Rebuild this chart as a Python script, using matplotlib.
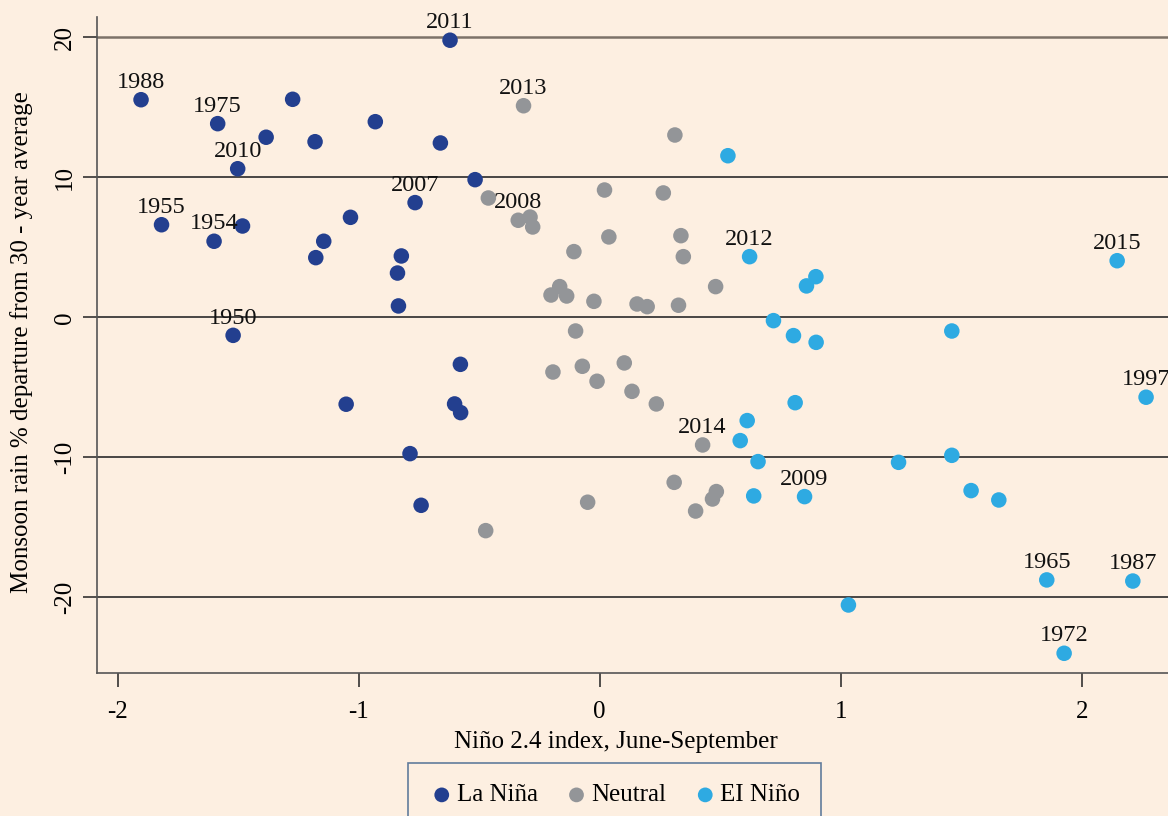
import matplotlib
matplotlib.use("Agg")
import matplotlib.pyplot as plt

# ---- data ----
la_nina_x = [-1.903, -1.585, -1.384, -1.274, -1.181, -0.931, -1.502, -1.818, -1.600, -1.482,
             -1.145, -1.178, -1.034, -0.823, -0.839, -0.835, -1.521, -0.621, -0.661, -0.517,
             -0.766, -1.052, -0.578, -0.602, -0.577, -0.787, -0.741]
la_nina_y = [15.54, 13.83, 12.86, 15.57, 12.54, 13.97, 10.61, 6.61, 5.43, 6.52,
             5.43, 4.26, 7.14, 4.38, 3.16, 0.81, -1.29, 19.79, 12.45, 9.83,
             8.19, -6.21, -3.36, -6.19, -6.81, -9.74, -13.43]
la_nina_labels = ['1988', '1975', '', '', '', '', '2010', '1955', '1954', '',
                  '', '', '', '', '', '', '1950', '2011', '', '',
                  '2007', '', '', '', '', '', '']

neutral_x = [-0.316, 0.312, -0.462, -0.338, -0.289, -0.278, 0.020, 0.264, 0.038, 0.337,
             0.347, -0.107, -0.166, -0.202, -0.137, -0.024, 0.155, 0.197, 0.327, 0.481,
             -0.100, -0.194, -0.072, -0.011, 0.102, 0.134, 0.235, 0.427, 0.309, 0.484,
             0.468, 0.398, -0.050, -0.473]
neutral_y = [15.11, 13.02, 8.52, 6.93, 7.16, 6.45, 9.09, 8.88, 5.74, 5.83,
             4.33, 4.69, 2.19, 1.59, 1.52, 1.14, 0.95, 0.76, 0.86, 2.19,
             -0.98, -3.91, -3.50, -4.57, -3.26, -5.29, -6.19, -9.12, -11.79, -12.45,
             -12.98, -13.84, -13.21, -15.24]
neutral_labels = ['2013', '', '', '2008', '', '', '', '', '', '',
                  '', '', '', '', '', '', '', '', '', '',
                  '', '', '', '', '', '', '', '2014', '', '',
                  '', '', '', '']

el_nino_x = [0.532, 0.622, 0.721, 0.804, 0.897, 0.858, 2.147, 0.898, 1.461, 0.811,
             0.612, 0.583, 0.657, 0.639, 2.267, 1.240, 1.461, 0.850, 1.541, 1.656,
             1.855, 2.212, 1.032, 1.927]
el_nino_y = [11.54, 4.33, -0.24, -1.31, 2.90, 2.24, 4.04, -1.79, -0.98, -6.10,
             -7.38, -8.81, -10.31, -12.76, -5.71, -10.36, -9.86, -12.81, -12.38, -13.05,
             -18.76, -18.84, -20.55, -24.00]
el_nino_labels = ['', '2012', '', '', '', '', '2015', '', '', '',
                  '', '', '', '', '1997', '', '', '2009', '', '',
                  '1965', '1987', '', '1972']

series_names = ['La Niña', 'Neutral', 'EI Niño']
series_colors = ['#233f8f', '#939598', '#2eaae2']

x_ticks = [-2, -1, 0, 1, 2]
y_ticks = [-20, -10, 0, 10, 20]
x_label = 'Niño 2.4 index, June-September'
y_label = 'Monsoon rain % departure from 30 - year average'

# ---- style ----
BG = '#fdefe1'
plt.rcParams['font.family'] = ['Liberation Serif', 'DejaVu Serif']

W, H = 1168, 816
fig = plt.figure(figsize=(W / 100, H / 100), dpi=100, facecolor=BG)
ax_left, ax_bottom_px, ax_top_px = 96.7, 673.3, 16.7
ax = fig.add_axes([ax_left / W, 1 - ax_bottom_px / H, 1 - ax_left / W + 0.01,
                   (ax_bottom_px - ax_top_px) / H])
ax.set_facecolor(BG)
ax_w_px = W * ax.get_position().width
ax_h_px = ax_bottom_px - ax_top_px

ax.set_xlim(-2.087, 2.358 + 0.01 * W / 241.1)
ax.set_ylim(-25.43, 21.47)

for yt in y_ticks:
    if yt == max(y_ticks):
        ax.axhline(yt, color='#7d7268', lw=1.8, zorder=1)
    else:
        ax.axhline(yt, color='#2a2a2a', lw=1.2, zorder=1)

groups = [(la_nina_x, la_nina_y, la_nina_labels),
          (neutral_x, neutral_y, neutral_labels),
          (el_nino_x, el_nino_y, el_nino_labels)]
for (xs, ys, labs), name, col in zip(groups, series_names, series_colors):
    ax.scatter(xs, ys, s=125, color=col, edgecolors='none', label=name, zorder=3)
    for xv, yv, lab in zip(xs, ys, labs):
        if lab:
            ax.annotate(lab, (xv, yv), xytext=(0, 8.5), textcoords='offset points',
                        ha='center', va='baseline', fontsize=17.5, color='#111111',
                        zorder=4, annotation_clip=False)

for side in ['top', 'right']:
    ax.spines[side].set_visible(False)
for side in ['left', 'bottom']:
    ax.spines[side].set_color('#555555')
    ax.spines[side].set_linewidth(1.2)

ax.set_xticks(x_ticks)
ax.set_xticklabels([str(t) for t in x_ticks])
ax.set_yticks(y_ticks)
ax.set_yticklabels([str(t) for t in y_ticks], rotation=90, va='center')
ax.tick_params(axis='x', length=10, width=1.1, color='#222222', pad=10, labelsize=18)
ax.tick_params(axis='y', length=10, width=1.1, color='#222222', pad=5, labelsize=18)

ax.set_xlabel(x_label, fontsize=18)
ax.xaxis.set_label_coords((616 - ax_left) / ax_w_px, -(731 - ax_bottom_px) / ax_h_px)
ax.set_ylabel(y_label, fontsize=18)
ax.yaxis.set_label_coords(-(ax_left - 33) / ax_w_px, (ax_bottom_px - 342) / ax_h_px)

leg = fig.legend(loc='upper left', bbox_to_anchor=(408 / W, 1 - 762.7 / H), ncol=3,
                 frameon=True, fontsize=18, markerscale=0.95, handletextpad=0.1,
                 columnspacing=1.05, borderpad=0.85, handlelength=1.0, fancybox=False,
                 borderaxespad=0)
leg.get_frame().set_edgecolor('#3a5f8a')
leg.get_frame().set_facecolor(BG)
leg.get_frame().set_linewidth(1.2)

fig.savefig('out.png', dpi=100, facecolor=BG)
